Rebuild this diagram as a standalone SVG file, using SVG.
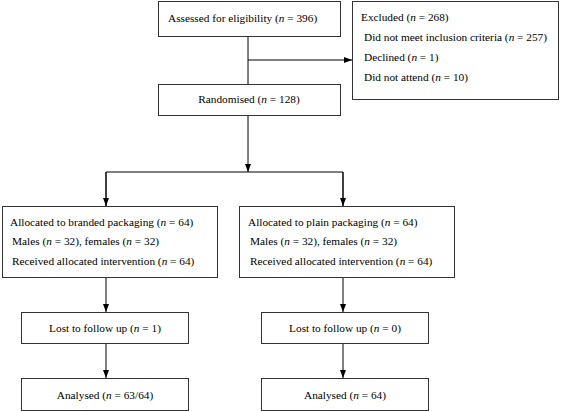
<svg xmlns="http://www.w3.org/2000/svg" width="567" height="412" viewBox="0 0 567 412">
<style>
rect{fill:#fff;stroke:#333;stroke-width:1}
text{font-family:"Liberation Serif","Times New Roman",serif;font-size:11.3px;fill:#000}
.c{text-anchor:middle}
line,polyline{stroke:#000;stroke-width:1;fill:none}
</style>
<defs>
<marker id="ah" markerWidth="8" markerHeight="6" refX="8" refY="3" orient="auto" markerUnits="userSpaceOnUse">
<path d="M0,0 L8,3 L0,6 Z" fill="#000"/>
</marker>
</defs>
<rect width="567" height="412" style="fill:#fff;stroke:none"/>
<g id="connectors">
<line x1="248" y1="37" x2="248" y2="84"/>
<line x1="248" y1="60" x2="352" y2="60" marker-end="url(#ah)"/>
<line x1="248" y1="115" x2="248" y2="172" marker-end="url(#ah)"/>
<polyline points="106,206 106,172 343,172 343,206"/>
<line x1="106" y1="172" x2="106" y2="206" marker-end="url(#ah)"/>
<line x1="343" y1="172" x2="343" y2="206" marker-end="url(#ah)"/>
<line x1="106" y1="277" x2="106" y2="312" marker-end="url(#ah)"/>
<line x1="343" y1="277" x2="343" y2="312" marker-end="url(#ah)"/>
<line x1="106" y1="343" x2="106" y2="378" marker-end="url(#ah)"/>
<line x1="343" y1="343" x2="343" y2="378" marker-end="url(#ah)"/>
</g>
<g id="assessed">
<rect x="158.5" y="1.5" width="182" height="35"/>
<text x="168" y="22">Assessed for eligibility (<tspan font-style="italic">n</tspan> = 396)</text>
</g>
<g id="excluded">
<rect x="352.5" y="1.5" width="206" height="98"/>
<text x="361" y="21">Excluded (<tspan font-style="italic">n</tspan> = 268)</text>
<text x="364" y="41">Did not meet inclusion criteria (<tspan font-style="italic">n</tspan> = 257)</text>
<text x="364" y="61">Declined (<tspan font-style="italic">n</tspan> = 1)</text>
<text x="364" y="81">Did not attend (<tspan font-style="italic">n</tspan> = 10)</text>
</g>
<g id="randomised">
<rect x="158.5" y="84.5" width="182" height="31"/>
<text class="c" x="249" y="103">Randomised (<tspan font-style="italic">n</tspan> = 128)</text>
</g>
<g id="branded">
<rect x="2.5" y="206.5" width="215" height="71"/>
<text x="10" y="226">Allocated to branded packaging (<tspan font-style="italic">n</tspan> = 64)</text>
<text x="12" y="245">Males (<tspan font-style="italic">n</tspan> = 32), females (<tspan font-style="italic">n</tspan> = 32)</text>
<text x="12" y="265">Received allocated intervention (<tspan font-style="italic">n</tspan> = 64)</text>
</g>
<g id="plain">
<rect x="239.5" y="206.5" width="215" height="71"/>
<text x="248" y="226">Allocated to plain packaging (<tspan font-style="italic">n</tspan> = 64)</text>
<text x="250" y="245">Males (<tspan font-style="italic">n</tspan> = 32), females (<tspan font-style="italic">n</tspan> = 32)</text>
<text x="250" y="265">Received allocated intervention (<tspan font-style="italic">n</tspan> = 64)</text>
</g>
<g id="lost-branded">
<rect x="21.5" y="312.5" width="167" height="31"/>
<text class="c" x="105" y="332">Lost to follow up (<tspan font-style="italic">n</tspan> = 1)</text>
</g>
<g id="lost-plain">
<rect x="261.5" y="312.5" width="167" height="31"/>
<text class="c" x="345" y="332">Lost to follow up (<tspan font-style="italic">n</tspan> = 0)</text>
</g>
<g id="analysed-branded">
<rect x="21.5" y="378.5" width="167" height="32"/>
<text class="c" x="105" y="399">Analysed (<tspan font-style="italic">n</tspan> = 63/64)</text>
</g>
<g id="analysed-plain">
<rect x="261.5" y="378.5" width="167" height="32"/>
<text class="c" x="345" y="399">Analysed (<tspan font-style="italic">n</tspan> = 64)</text>
</g>
</svg>
